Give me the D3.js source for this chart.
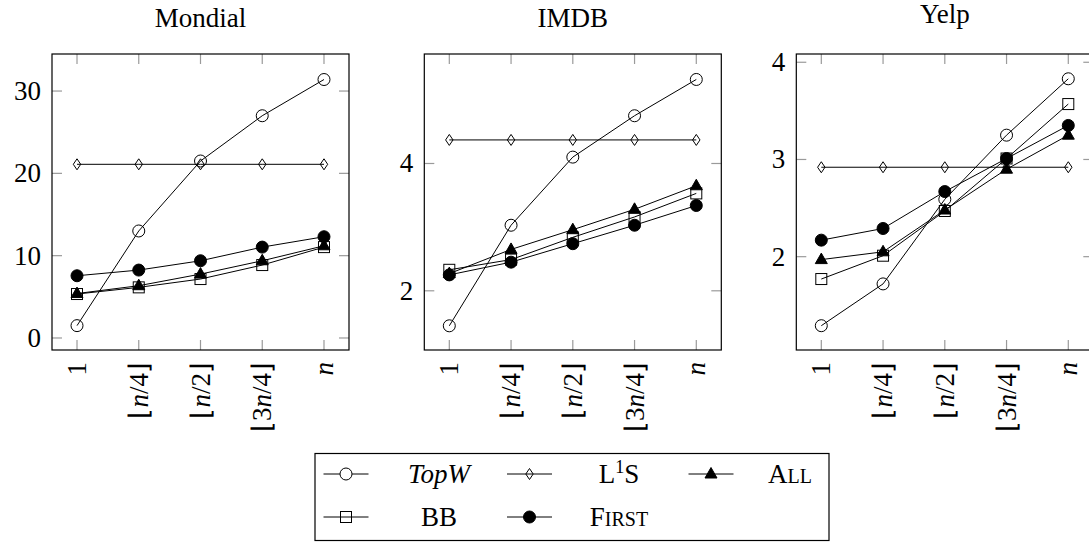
<!DOCTYPE html>
<html><head><meta charset="utf-8">
<script src="https://cdn.jsdelivr.net/npm/d3@7"></script>
<style>
html,body{margin:0;padding:0;background:#fff;}
svg{display:block;font-family:"Liberation Serif","Times New Roman",serif;}
</style></head>
<body>
<svg id="chart" width="1089" height="542"></svg>
<script>
// ---- data ----
const categories = ["1", "n/4", "n/2", "3n/4", "n"];
const seriesNames = ["TopW", "L1S", "All", "BB", "First"];

const mondialTopW  = [1.5, 13.0, 21.5, 27.0, 31.4];
const mondialL1S   = [21.1, 21.1, 21.1, 21.1, 21.1];
const mondialAll   = [5.4, 6.35, 7.76, 9.38, 11.2];
const mondialBB    = [5.34, 6.15, 7.16, 8.86, 11.04];
const mondialFirst = [7.56, 8.25, 9.38, 11.04, 12.3];

const imdbTopW  = [1.45, 3.03, 4.10, 4.75, 5.32];
const imdbL1S   = [4.37, 4.37, 4.37, 4.37, 4.37];
const imdbAll   = [2.27, 2.65, 2.96, 3.28, 3.65];
const imdbBB    = [2.33, 2.49, 2.84, 3.16, 3.53];
const imdbFirst = [2.25, 2.45, 2.74, 3.03, 3.34];

const yelpTopW  = [1.29, 1.72, 2.59, 3.25, 3.83];
const yelpL1S   = [2.92, 2.92, 2.92, 2.92, 2.92];
const yelpAll   = [1.97, 2.05, 2.48, 2.90, 3.25];
const yelpBB    = [1.77, 2.01, 2.47, 3.01, 3.57];
const yelpFirst = [2.17, 2.29, 2.67, 3.01, 3.35];

const mondialTicks = [0, 10, 20, 30];
const imdbTicks = [2, 4];
const yelpTicks = [2, 3, 4];

// ---- layout ----
const panels = [
  {title: "Mondial", left: 52,    titleY: 27, dom: [-1.46, 34.5], ticks: mondialTicks,
   data: [mondialTopW, mondialL1S, mondialAll, mondialBB, mondialFirst]},
  {title: "IMDB",    left: 424.3, titleY: 27, dom: [1.07, 5.72], ticks: imdbTicks,
   data: [imdbTopW, imdbL1S, imdbAll, imdbBB, imdbFirst]},
  {title: "Yelp",    left: 796.3, titleY: 23, dom: [1.04, 4.085], ticks: yelpTicks,
   data: [yelpTopW, yelpL1S, yelpAll, yelpBB, yelpFirst]}
];
const W = 297, TOP = 54, BOT = 350;
const FS = 27;

const svg = d3.select("#chart");

function marker(g, type, x, y) {
  const s = 6;
  if (type === "TopW") {
    g.append("circle").attr("cx", x).attr("cy", y).attr("r", s)
      .attr("fill", "none").attr("stroke", "#000").attr("stroke-width", 1);
  } else if (type === "First") {
    g.append("circle").attr("cx", x).attr("cy", y).attr("r", s)
      .attr("fill", "#000").attr("stroke", "#000").attr("stroke-width", 1);
  } else if (type === "L1S") {
    g.append("path").attr("d", `M${x},${y-5.5}L${x+3.7},${y}L${x},${y+5.5}L${x-3.7},${y}Z`)
      .attr("fill", "none").attr("stroke", "#000").attr("stroke-width", 1);
  } else if (type === "BB") {
    g.append("rect").attr("x", x - 5.5).attr("y", y - 5.5).attr("width", 11).attr("height", 11)
      .attr("fill", "none").attr("stroke", "#000").attr("stroke-width", 1);
  } else if (type === "All") {
    g.append("path").attr("d", `M${x},${y-6.5}L${x+6},${y+4}L${x-6},${y+4}Z`)
      .attr("fill", "#000").attr("stroke", "#000").attr("stroke-width", 1);
  }
}

function xLabel(t, cat) {
  const it = (s) => `<tspan font-style="italic">${s}</tspan>`;
  if (cat === "1") t.text("1");
  else if (cat === "n") t.html(it("n"));
  else if (cat === "n/4") t.html("⌊" + it("n") + "/4⌋");
  else if (cat === "n/2") t.html("⌊" + it("n") + "/2⌋");
  else if (cat === "3n/4") t.html("⌊3" + it("n") + "/4⌋");
}

panels.forEach(p => {
  const x = d3.scalePoint().domain(categories).range([p.left, p.left + W]).padding(0.405);
  const y = d3.scaleLinear().domain(p.dom).range([BOT, TOP]);
  const g = svg.append("g");

  // title
  g.append("text").attr("x", p.left + W / 2).attr("y", p.titleY)
    .attr("text-anchor", "middle").attr("font-size", FS).text(p.title);

  // ticks (inward, mirrored)
  const tl = 10;
  categories.forEach(c => {
    const xx = x(c);
    g.append("line").attr("x1", xx).attr("x2", xx).attr("y1", BOT).attr("y2", BOT - tl)
      .attr("stroke", "#9a9a9a").attr("stroke-width", 1.2);
    g.append("line").attr("x1", xx).attr("x2", xx).attr("y1", TOP).attr("y2", TOP + tl)
      .attr("stroke", "#9a9a9a").attr("stroke-width", 1.2);
    const t = g.append("text")
      .attr("transform", `translate(${xx},362) rotate(-90)`)
      .attr("text-anchor", "end").attr("dominant-baseline", "central")
      .attr("font-size", FS);
    xLabel(t, c);
  });
  p.ticks.forEach(v => {
    const yy = y(v);
    g.append("line").attr("x1", p.left).attr("x2", p.left + tl).attr("y1", yy).attr("y2", yy)
      .attr("stroke", "#9a9a9a").attr("stroke-width", 1.2);
    g.append("line").attr("x1", p.left + W).attr("x2", p.left + W - tl).attr("y1", yy).attr("y2", yy)
      .attr("stroke", "#9a9a9a").attr("stroke-width", 1.2);
    g.append("text").attr("x", p.left - 11).attr("y", yy)
      .attr("text-anchor", "end").attr("dominant-baseline", "central")
      .attr("font-size", FS).text(v);
  });

  // frame
  g.append("rect").attr("x", p.left).attr("y", TOP).attr("width", W).attr("height", BOT - TOP)
    .attr("fill", "none").attr("stroke", "#000").attr("stroke-width", 1.2);

  // series
  const line = d3.line().x((d, i) => x(categories[i])).y(d => y(d));
  p.data.forEach((arr, si) => {
    const sg = g.append("g");
    sg.append("path").attr("d", line(arr)).attr("fill", "none")
      .attr("stroke", "#000").attr("stroke-width", 1);
    arr.forEach((v, i) => marker(sg, seriesNames[si], x(categories[i]), y(v)));
  });
});

// ---- legend ----
const lg = svg.append("g");
lg.append("rect").attr("x", 315).attr("y", 453.5).attr("width", 514).attr("height", 87)
  .attr("fill", "#fff").attr("stroke", "#000").attr("stroke-width", 1.2);
const legendPos = [
  {name: "TopW",  lx: 346,   ly: 474, tx: 439},
  {name: "L1S",   lx: 529.5, ly: 474, tx: 619},
  {name: "All",   lx: 711,   ly: 474, tx: 790},
  {name: "BB",    lx: 346,   ly: 517, tx: 439},
  {name: "First", lx: 529.5, ly: 517, tx: 619}
];
legendPos.forEach(e => {
  if (e.name === "TopW") {
    lg.append("line").attr("x1", e.lx - 22.5).attr("x2", e.lx - 6).attr("y1", e.ly).attr("y2", e.ly).attr("stroke", "#000");
    lg.append("line").attr("x1", e.lx + 6).attr("x2", e.lx + 22.5).attr("y1", e.ly).attr("y2", e.ly).attr("stroke", "#000");
  } else {
    lg.append("line").attr("x1", e.lx - 22.5).attr("x2", e.lx + 22.5).attr("y1", e.ly).attr("y2", e.ly).attr("stroke", "#000");
  }
  marker(lg, e.name, e.lx, e.ly);
  const t = lg.append("text").attr("x", e.tx).attr("y", e.ly + 9)
    .attr("text-anchor", "middle").attr("font-size", FS);
  if (e.name === "TopW") t.attr("font-style", "italic").text("TopW");
  else if (e.name === "L1S") t.html('L<tspan font-size="18" dy="-10">1</tspan><tspan dy="10">S</tspan>');
  else if (e.name === "All") t.html('A<tspan font-size="20">LL</tspan>');
  else if (e.name === "BB") t.text("BB");
  else if (e.name === "First") t.html('F<tspan font-size="20">IRST</tspan>');
});
</script>
</body></html>
